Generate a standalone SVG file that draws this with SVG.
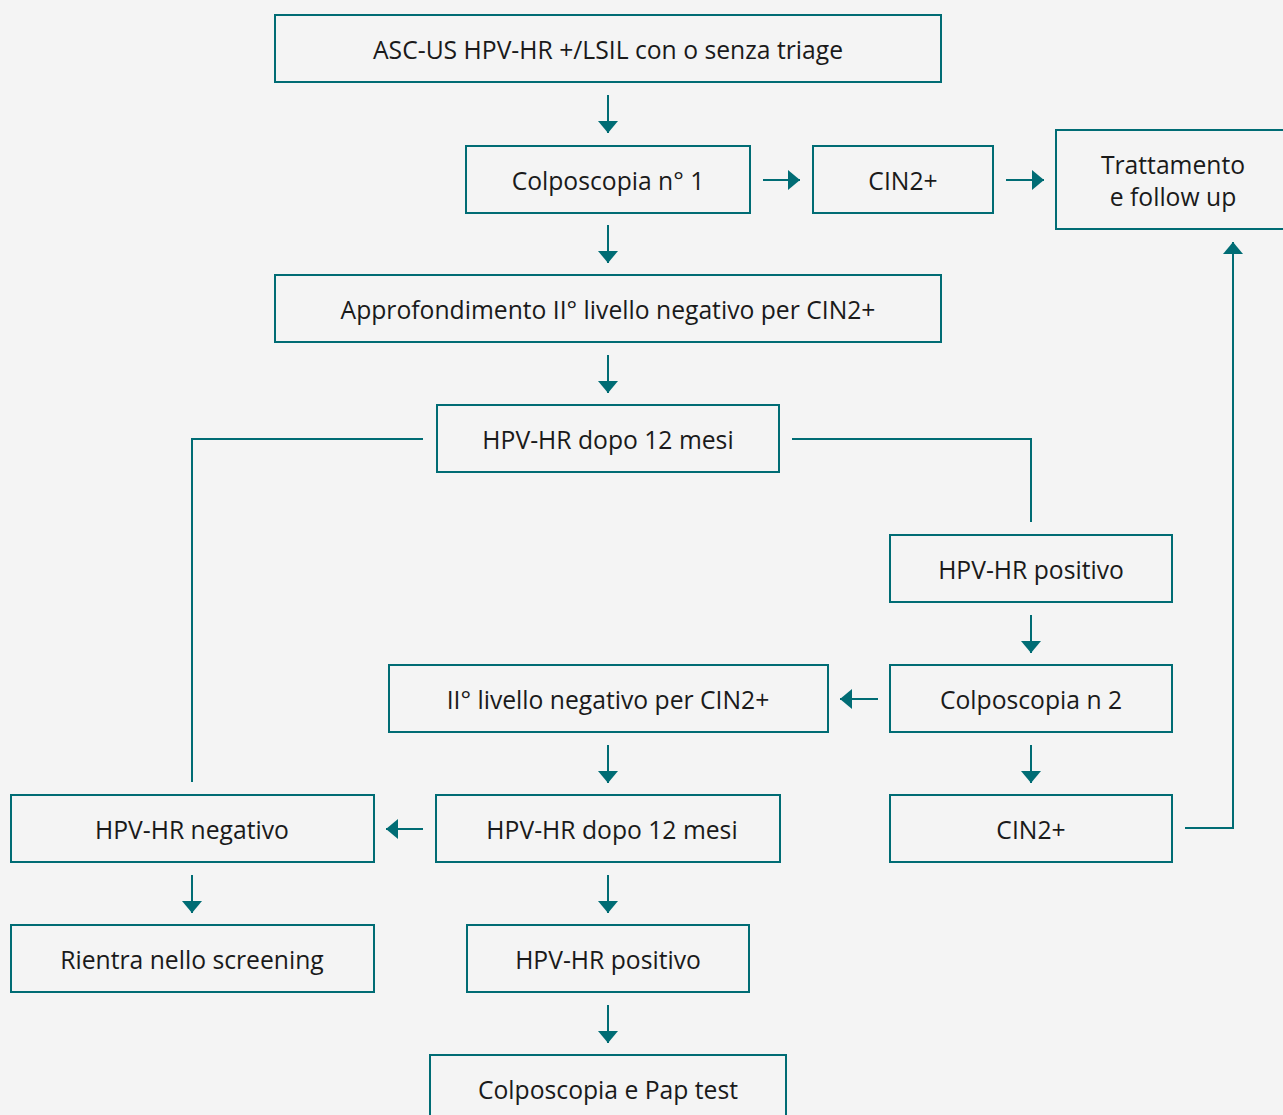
<svg xmlns="http://www.w3.org/2000/svg" width="1283" height="1115" viewBox="0 0 1283 1115">
<defs>
<style>
.b{fill:#f4f4f4;stroke:#006c74;stroke-width:2}
.t{font-family:"Open Sans","Noto Sans",sans-serif;font-size:24.7px;fill:#1a1a1a;text-anchor:middle;dominant-baseline:central}
.c{fill:none;stroke:#006c74;stroke-width:2}
</style>
<marker id="a" viewBox="0 0 12 20" refX="12" refY="10" markerWidth="12" markerHeight="20" markerUnits="userSpaceOnUse" orient="auto">
<path d="M0,0 L12,10 L0,20 Z" fill="#006c74"/>
</marker>
</defs>
<rect width="1283" height="1115" fill="#f4f4f4"/>
<g id="n1"><rect class="b" x="275" y="15" width="666" height="67"/><text class="t" x="608" y="49">ASC-US HPV-HR +/LSIL con o senza triage</text></g>
<g id="n2"><rect class="b" x="466" y="146" width="284" height="67"/><text class="t" x="608" y="180">Colposcopia n° 1</text></g>
<g id="n3"><rect class="b" x="813" y="146" width="180" height="67"/><text class="t" x="903" y="180">CIN2+</text></g>
<g id="n4"><rect class="b" x="1056" y="130" width="240" height="99"/><text class="t" x="1173" y="164">Trattamento</text><text class="t" x="1173" y="196">e follow up</text></g>
<g id="n5"><rect class="b" x="275" y="275" width="666" height="67"/><text class="t" x="608" y="309">Approfondimento II° livello negativo per CIN2+</text></g>
<g id="n6"><rect class="b" x="437" y="405" width="342" height="67"/><text class="t" x="608" y="439">HPV-HR dopo 12 mesi</text></g>
<g id="n7"><rect class="b" x="890" y="535" width="282" height="67"/><text class="t" x="1031" y="569">HPV-HR positivo</text></g>
<g id="n8"><rect class="b" x="389" y="665" width="439" height="67"/><text class="t" x="608" y="699">II° livello negativo per CIN2+</text></g>
<g id="n9"><rect class="b" x="890" y="665" width="282" height="67"/><text class="t" x="1031" y="699">Colposcopia n 2</text></g>
<g id="n10"><rect class="b" x="11" y="795" width="363" height="67"/><text class="t" x="192" y="829">HPV-HR negativo</text></g>
<g id="n11"><rect class="b" x="436" y="795" width="344" height="67"/><text class="t" x="612" y="829">HPV-HR dopo 12 mesi</text></g>
<g id="n12"><rect class="b" x="890" y="795" width="282" height="67"/><text class="t" x="1031" y="829">CIN2+</text></g>
<g id="n13"><rect class="b" x="11" y="925" width="363" height="67"/><text class="t" x="192" y="959">Rientra nello screening</text></g>
<g id="n14"><rect class="b" x="467" y="925" width="282" height="67"/><text class="t" x="608" y="959">HPV-HR positivo</text></g>
<g id="n15"><rect class="b" x="430" y="1055" width="356" height="80"/><text class="t" x="608" y="1089">Colposcopia e Pap test</text></g>
<g id="connectors">
<line class="c" x1="608" y1="95" x2="608" y2="133" marker-end="url(#a)"/>
<line class="c" x1="763" y1="180" x2="800" y2="180" marker-end="url(#a)"/>
<line class="c" x1="1006" y1="180" x2="1044" y2="180" marker-end="url(#a)"/>
<line class="c" x1="608" y1="225" x2="608" y2="263" marker-end="url(#a)"/>
<line class="c" x1="608" y1="355" x2="608" y2="393" marker-end="url(#a)"/>
<polyline class="c" points="423,439 192,439 192,782"/>
<polyline class="c" points="792,439 1031,439 1031,522"/>
<line class="c" x1="1031" y1="615" x2="1031" y2="653" marker-end="url(#a)"/>
<line class="c" x1="878" y1="699" x2="840" y2="699" marker-end="url(#a)"/>
<line class="c" x1="1031" y1="745" x2="1031" y2="783" marker-end="url(#a)"/>
<line class="c" x1="608" y1="745" x2="608" y2="783" marker-end="url(#a)"/>
<line class="c" x1="423" y1="829" x2="386" y2="829" marker-end="url(#a)"/>
<line class="c" x1="192" y1="875" x2="192" y2="913" marker-end="url(#a)"/>
<line class="c" x1="608" y1="875" x2="608" y2="913" marker-end="url(#a)"/>
<line class="c" x1="608" y1="1005" x2="608" y2="1043" marker-end="url(#a)"/>
<polyline class="c" points="1185,828 1233,828 1233,242" marker-end="url(#a)"/>
</g>
</svg>
